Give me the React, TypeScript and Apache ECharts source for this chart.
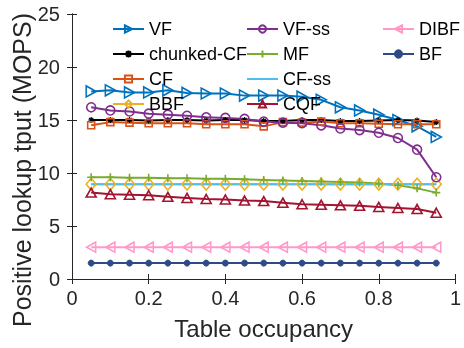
import React, { useEffect, useRef } from "react";
import * as echarts from "echarts";

const occupancy = [0.05, 0.1, 0.15, 0.2, 0.25, 0.3, 0.35, 0.4, 0.45, 0.5, 0.55, 0.6, 0.65, 0.7, 0.75, 0.8, 0.85, 0.9, 0.95];
const vf = [17.7, 17.8, 17.6, 17.6, 17.8, 17.55, 17.5, 17.5, 17.3, 17.3, 17.3, 17.2, 16.9, 16.2, 15.9, 15.5, 15.0, 14.4, 13.4];
const chunkedCf = [15.0, 15.0, 15.0, 14.95, 15.0, 15.0, 14.95, 15.0, 15.0, 14.9, 14.9, 15.0, 15.0, 14.9, 14.9, 14.95, 15.0, 14.95, 14.8];
const cf = [14.5, 14.8, 14.75, 14.7, 14.7, 14.7, 14.6, 14.6, 14.6, 14.4, 14.8, 14.75, 14.85, 14.7, 14.7, 14.65, 14.6, 14.6, 14.6];
const bbf = [8.95, 8.95, 8.95, 8.95, 8.95, 8.95, 8.95, 8.95, 8.95, 8.95, 8.95, 8.95, 8.95, 8.95, 8.95, 8.95, 8.95, 8.95, 8.95];
const vfSs = [16.2, 15.9, 15.8, 15.6, 15.5, 15.4, 15.25, 15.2, 15.1, 14.85, 14.75, 14.7, 14.5, 14.2, 14.05, 13.8, 13.3, 12.2, 9.6];
const mf = [9.6, 9.6, 9.55, 9.55, 9.5, 9.5, 9.45, 9.45, 9.4, 9.35, 9.3, 9.25, 9.2, 9.15, 9.1, 9.0, 8.85, 8.55, 8.15];
const cfSs = [8.95, 8.95, 8.95, 8.95, 8.95, 8.95, 8.95, 8.95, 8.95, 8.95, 8.95, 8.95, 8.95, 8.95, 8.95, 8.95, 8.95, 8.95, 8.95];
const cqf = [8.15, 8.0, 7.95, 7.9, 7.75, 7.65, 7.55, 7.5, 7.4, 7.35, 7.2, 7.05, 7.0, 6.95, 6.9, 6.8, 6.7, 6.6, 6.25];
const dibf = [3.0, 3.0, 3.0, 3.0, 3.0, 3.0, 3.0, 3.0, 3.0, 3.0, 3.0, 3.0, 3.0, 3.0, 3.0, 3.0, 3.0, 3.0, 3.0];
const bf = [1.5, 1.5, 1.5, 1.5, 1.5, 1.5, 1.5, 1.5, 1.5, 1.5, 1.5, 1.5, 1.5, 1.5, 1.5, 1.5, 1.5, 1.5, 1.5];

const legendCol1 = ["VF", "chunked-CF", "CF", "BBF"];
const legendCol2 = ["VF-ss", "MF", "CF-ss", "CQF"];
const legendCol3 = ["DIBF", "BF"];

const xTitle = "Table occupancy";
const yTitle = "Positive lookup tput (MOPS)";

const FONT = "'Liberation Sans', Arial, Helvetica, sans-serif";
const AXIS = "#262626";
const PLUS = "path://M0,5L10,5M5,0L5,10";
const STAR = "path://M0,5L10,5M5,0L5,10M1.5,1.5L8.5,8.5M1.5,8.5L8.5,1.5";
const LINE_ICON = "path://M0,0L62,0L62,4L0,4Z";

function mk(name: string, values: number[], color: string, symbol: string, size: any, opts: any = {}) {
  const open = opts.open !== false;
  return {
    name,
    type: "line",
    data: values.map((v, i) => [occupancy[i], v]),
    symbol,
    symbolSize: size,
    symbolRotate: opts.rotate || 0,
    showSymbol: symbol !== "none",
    lineStyle: { color, width: 2 },
    itemStyle: open
      ? { color: "rgba(255,255,255,0)", borderColor: color, borderWidth: 1.6 }
      : { color, borderColor: color, borderWidth: opts.bw || 1 },
    emphasis: { disabled: true },
  };
}

export default function App() {
  const ref = useRef<HTMLDivElement>(null);
  useEffect(() => {
    if (!ref.current) return;
    const chart = echarts.init(ref.current, undefined, { renderer: "svg" });
    const legendBase = {
      orient: "vertical",
      padding: 0,
      itemWidth: 31,
      itemHeight: 9,
      itemGap: 7,
      textStyle: { fontFamily: FONT, fontSize: 18, color: "#000", lineHeight: 18 },
      backgroundColor: "transparent",
      selectedMode: false,
    };
    chart.setOption({
      animation: false,
      grid: { left: 72, right: 1, top: 14, bottom: 69, containLabel: false },
      xAxis: [
        {
          type: "value",
          min: 0,
          max: 1,
          interval: 0.2,
          name: xTitle,
          nameLocation: "middle",
          nameGap: 37,
          nameTextStyle: { fontFamily: FONT, fontSize: 24, color: AXIS },
          axisLine: { show: true, lineStyle: { color: AXIS, width: 1 } },
          axisTick: { show: true, inside: true, length: 5, lineStyle: { color: AXIS } },
          axisLabel: { fontFamily: FONT, fontSize: 20, color: AXIS, margin: 9 },
          splitLine: { show: false },
        },
        {
          type: "value",
          position: "top",
          min: 0,
          max: 1,
          interval: 0.2,
          axisLine: { show: true, lineStyle: { color: AXIS, width: 1 } },
          axisTick: { show: true, inside: true, length: 5, lineStyle: { color: AXIS } },
          axisLabel: { show: false },
          splitLine: { show: false },
        },
      ],
      yAxis: [
        {
          type: "value",
          min: 0,
          max: 25,
          interval: 5,
          axisLine: { show: true, lineStyle: { color: AXIS, width: 1 } },
          axisTick: { show: true, inside: true, length: 5, lineStyle: { color: AXIS } },
          axisLabel: { fontFamily: FONT, fontSize: 20, color: AXIS, margin: 12 },
          splitLine: { show: false },
        },
        {
          type: "value",
          position: "right",
          min: 0,
          max: 25,
          interval: 5,
          axisLine: { show: true, lineStyle: { color: AXIS, width: 1 } },
          axisTick: { show: true, inside: true, length: 5, lineStyle: { color: AXIS } },
          axisLabel: { show: false },
          splitLine: { show: false },
        },
      ],
      legend: [
        { ...legendBase, data: legendCol1, left: 112, top: 20 },
        {
          ...legendBase,
          data: legendCol2.map((n) =>
            n === "CF-ss"
              ? { name: n, icon: LINE_ICON, itemStyle: { color: "#4DBEEE", borderWidth: 0, borderColor: "#4DBEEE" } }
              : n
          ),
          left: 246,
          top: 20,
        },
        { ...legendBase, data: legendCol3, left: 382, top: 20 },
      ],
      graphic: [
        {
          type: "text",
          x: 22,
          y: 170,
          rotation: Math.PI / 2,
          style: {
            text: yTitle,
            fontFamily: FONT,
            fontSize: 25,
            fill: AXIS,
            align: "center",
            verticalAlign: "middle",
          },
        },
      ],
      series: [
        mk("VF", vf, "#0072BD", "triangle", [11, 10], { rotate: -90 }),
        mk("chunked-CF", chunkedCf, "#000000", STAR, 6, { open: false, bw: 1.2 }),
        mk("CF", cf, "#D95319", "rect", 7),
        mk("BBF", bbf, "#EDB120", "diamond", [10, 12]),
        mk("VF-ss", vfSs, "#7E2F8E", "circle", 9),
        mk("MF", mf, "#77AC30", PLUS, 8, { open: false, bw: 1.6 }),
        mk("CF-ss", cfSs, "#4DBEEE", "none", 0),
        mk("CQF", cqf, "#A2142F", "triangle", [10, 9]),
        mk("DIBF", dibf, "#FF99C8", "triangle", [10, 9], { rotate: 90 }),
        mk("BF", bf, "#2E4A87", "circle", 6, { open: false }),
      ],
    });
    return () => chart.dispose();
  }, []);
  return <div ref={ref} style={{ position: "fixed", left: 0, top: 0, width: 464, height: 348 }} />;
}
